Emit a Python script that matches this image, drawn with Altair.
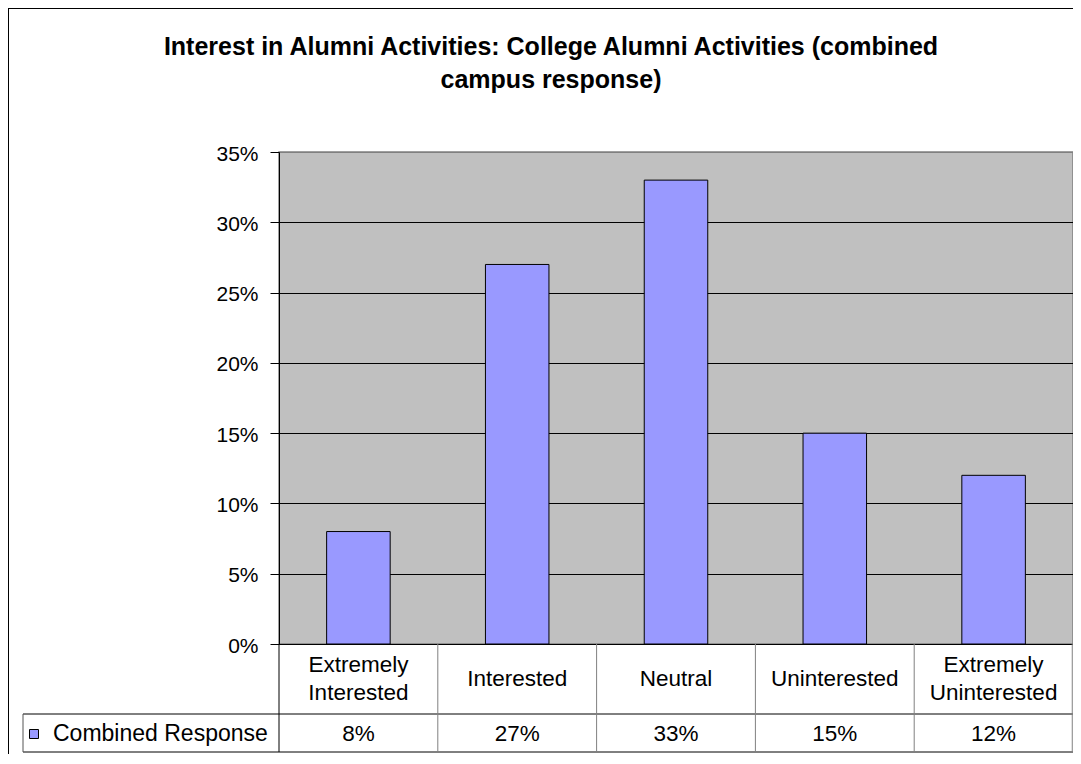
import altair as alt
import pandas as pd

# ---- data ----
categories = ["Extremely Interested", "Interested", "Neutral", "Uninterested", "Extremely Uninterested"]
cat_labels = ["Extremely\nInterested", "Interested", "Neutral", "Uninterested", "Extremely\nUninterested"]
values = [0.08, 0.27, 0.33, 0.15, 0.12]
y_ticks = [0, 0.05, 0.10, 0.15, 0.20, 0.25, 0.30, 0.35]
series_name = "Combined Response"
title_lines = "Interest in Alumni Activities: College Alumni Activities (combined\ncampus response)"

df = pd.DataFrame({"category": categories, "label": cat_labels, "value": values})

# ---- layout constants ----
W, H = 794, 492
ROW1 = 70      # category row height
ROW2 = 38      # values row height
LEG_X = -256   # left edge of legend cell (relative to plot)
FONT = "Liberation Sans"
BAR = "#9999FF"
TXT = 22.5
LH = 28

xenc = alt.X("category:N", sort=categories,
             scale=alt.Scale(paddingInner=0.6, paddingOuter=0.3),
             axis=alt.Axis(labels=False, ticks=False, title=None, grid=False,
                           domainColor="black", domainWidth=1))

bars = alt.Chart(df).mark_bar(color=BAR, stroke="black", strokeWidth=1).encode(
    x=xenc,
    y=alt.Y("value:Q", scale=alt.Scale(domain=[0, 0.35], nice=False, zero=True),
            axis=alt.Axis(values=y_ticks, format=".0%", title=None, tickSize=9,
                          labelPadding=12, labelFontSize=21, labelFont=FONT,
                          labelColor="black", tickColor="black", domainColor="black",
                          domainWidth=1, grid=True, gridWidth=1, labelOffset=2,
                          gridColor=alt.condition("datum.value >= 0.35",
                                                  alt.value("#808080"), alt.value("black")))),
)

cat_text = alt.Chart(df).transform_calculate(
    ypos=f"indexof(datum.label, '\\n') >= 0 ? {H + ROW1 / 2 - LH / 2} : {H + ROW1 / 2}"
).mark_text(lineBreak="\n", fontSize=TXT, lineHeight=LH,
            baseline="middle", font=FONT, color="black").encode(
    x=alt.X("category:N", sort=categories),
    y=alt.Y("ypos:Q", scale=None),
    text="label:N",
)

val_text = alt.Chart(df).mark_text(fontSize=TXT, baseline="middle", font=FONT, color="black").encode(
    x=alt.X("category:N", sort=categories),
    y=alt.value(H + ROW1 + ROW2 / 2 + 1),
    text=alt.Text("value:Q", format=".0%"),
)

# table grid lines (decoration)
step = W / len(categories)
lines = [
    {"x1": LEG_X, "x2": W, "y1": H + ROW1, "y2": H + ROW1, "c": "black"},
    {"x1": LEG_X, "x2": W, "y1": H + ROW1 + ROW2, "y2": H + ROW1 + ROW2, "c": "black"},
    {"x1": 0, "x2": 0, "y1": H, "y2": H + ROW1 + ROW2, "c": "black"},
    {"x1": LEG_X, "x2": LEG_X, "y1": H + ROW1, "y2": H + ROW1 + ROW2, "c": "#555555"},
]
for k in range(1, len(categories) + 1):
    xk = step * k - (0.75 if k == len(categories) else 0)
    lines.append({"x1": xk, "x2": xk, "y1": H, "y2": H + ROW1 + ROW2, "c": "#808080"})
lines_df = pd.DataFrame(lines)

grid_lines = alt.Chart(lines_df).mark_rule(strokeWidth=1).encode(
    x=alt.X("x1:Q", scale=None), x2="x2:Q",
    y=alt.Y("y1:Q", scale=None), y2="y2:Q",
    color=alt.Color("c:N", scale=None),
)

legend_box = alt.Chart(pd.DataFrame({"s": [series_name]})).mark_rect(
    fill=BAR, stroke="black", strokeWidth=1).encode(
    x=alt.value(LEG_X + 6.5), x2=alt.value(LEG_X + 15.5),
    y=alt.value(H + ROW1 + 15.5), y2=alt.value(H + ROW1 + 24.5),
)
legend_text = alt.Chart(pd.DataFrame({"s": [series_name]})).mark_text(
    align="left", baseline="middle", fontSize=23, font=FONT, color="black").encode(
    x=alt.value(LEG_X + 30), y=alt.value(H + ROW1 + ROW2 / 2 + 1), text="s:N")

title = alt.Chart(pd.DataFrame({"t": [title_lines]})).mark_text(
    lineBreak="\n", align="center", baseline="middle", fontSize=25, fontWeight="bold",
    lineHeight=33, font=FONT, color="black").encode(
    x=alt.value(272), y=alt.value(-105), text="t:N")

border = alt.Chart(pd.DataFrame({"b": [1]})).mark_rect(
    fill=None, stroke="black", strokeWidth=2).encode(
    x=alt.value(-271), x2=alt.value(W + 40), y=alt.value(-144), y2=alt.value(H + 200))

chart = alt.layer(border, grid_lines, bars, cat_text, val_text, legend_box, legend_text, title).properties(
    width=W, height=H, autosize="none",
    padding={"left": 271, "top": 144, "right": 0, "bottom": 110},
    background="white",
).configure_view(fill="#C0C0C0", stroke="#808080", strokeWidth=1.5)

chart.save("out.html", embed_options={"renderer": "svg", "actions": False})
